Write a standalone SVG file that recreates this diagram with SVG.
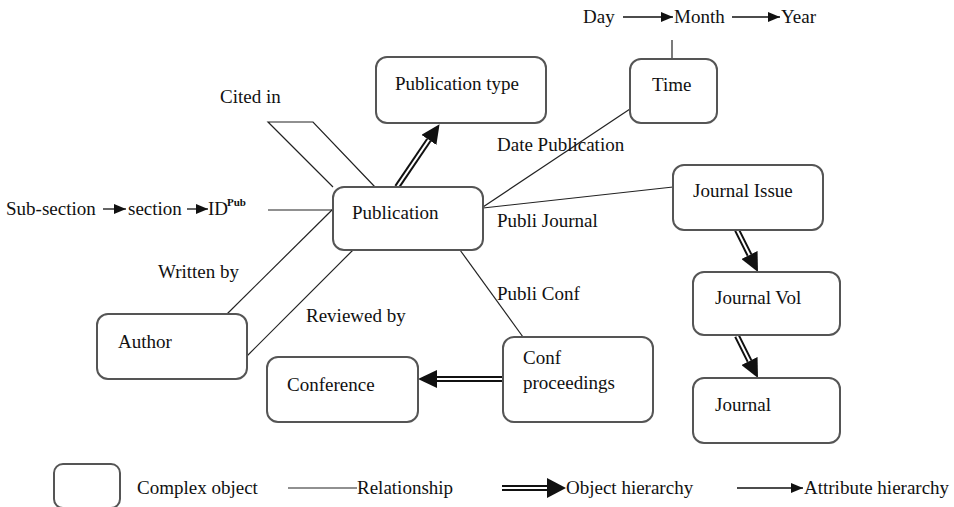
<svg xmlns="http://www.w3.org/2000/svg" width="954" height="507" viewBox="0 0 954 507">
<style>
.box{fill:#fff;stroke:#555;stroke-width:2}
text{font-family:"Liberation Serif","Times New Roman",serif;font-size:19px;fill:#111}
.rel{stroke:#222;stroke-width:1.2;fill:none}
.dblo{stroke:#111;stroke-width:6;fill:none}
.dbli{stroke:#fff;stroke-width:2;fill:none}
.attr{stroke:#111;stroke-width:1.3;fill:none}
</style>
<defs>
<marker id="obj" viewBox="0 0 19 18" refX="0" refY="9" markerWidth="19" markerHeight="18" markerUnits="userSpaceOnUse" orient="auto">
<path d="M0,0 L19,9 L0,18 z" fill="#111"/>
</marker>
<marker id="objL" viewBox="0 0 19 20" refX="0" refY="10" markerWidth="19" markerHeight="20" markerUnits="userSpaceOnUse" orient="auto">
<path d="M0,0 L19,10 L0,20 z" fill="#111"/>
</marker>
<marker id="att" viewBox="0 0 12 10" refX="12" refY="5" markerWidth="12" markerHeight="10" markerUnits="userSpaceOnUse" orient="auto">
<path d="M0,0 L12,5 L0,10 z" fill="#111"/>
</marker>
</defs>
<rect width="954" height="507" fill="#fff"/>
<g id="connectors">
<path class="rel" d="M333,187 L268,122 L313,122 L375,187"/>
<line class="rel" x1="268" y1="210" x2="333" y2="210"/>
<line class="rel" x1="483" y1="207" x2="630" y2="109"/>
<line class="rel" x1="483" y1="208" x2="673" y2="187"/>
<line class="rel" x1="460" y1="250" x2="523" y2="337"/>
<line class="rel" x1="333" y1="209" x2="227" y2="314"/>
<line class="rel" x1="353" y1="250" x2="247" y2="356"/>
<line class="rel" x1="672" y1="40" x2="672" y2="60"/>
<line class="dblo" x1="397" y1="187" x2="428.9" y2="139.9" marker-end="url(#obj)"/>
<line class="dbli" x1="397" y1="187" x2="428.9" y2="139.9"/>
<line class="dblo" x1="503" y1="379" x2="437" y2="379" marker-end="url(#obj)"/>
<line class="dbli" x1="503" y1="379" x2="437" y2="379"/>
<line class="dblo" x1="737" y1="230" x2="749.5" y2="255" marker-end="url(#obj)"/>
<line class="dbli" x1="737" y1="230" x2="749.5" y2="255"/>
<line class="dblo" x1="737" y1="336" x2="749.5" y2="361" marker-end="url(#obj)"/>
<line class="dbli" x1="737" y1="336" x2="749.5" y2="361"/>
<line class="attr" x1="623" y1="17" x2="673" y2="17" marker-end="url(#att)"/>
<line class="attr" x1="732" y1="17" x2="780" y2="17" marker-end="url(#att)"/>
<line class="attr" x1="103" y1="209" x2="126" y2="209" marker-end="url(#att)"/>
<line class="attr" x1="187" y1="209" x2="208" y2="209" marker-end="url(#att)"/>
</g>
<g id="attr-time">
<text x="583" y="23">Day</text>
<text x="674" y="23">Month</text>
<text x="781" y="23">Year</text>
</g>
<g id="attr-pub">
<text x="6" y="215">Sub-section</text>
<text x="128" y="215">section</text>
<text x="208" y="215">ID</text>
<text x="227" y="206" style="font-size:11px;font-weight:bold">Pub</text>
</g>
<g id="labels">
<text x="220" y="103">Cited in</text>
<text x="497" y="151">Date Publication</text>
<text x="497" y="227">Publi Journal</text>
<text x="158" y="278">Written by</text>
<text x="497" y="300">Publi Conf</text>
<text x="306" y="322">Reviewed by</text>
</g>
<g id="n-pubtype"><rect class="box" x="376" y="57" width="170" height="66" rx="11"/><text x="395" y="90">Publication type</text></g>
<g id="n-time"><rect class="box" x="630" y="59" width="87" height="64" rx="11"/><text x="652" y="91">Time</text></g>
<g id="n-pub"><rect class="box" x="333" y="187" width="150" height="63" rx="11"/><text x="352" y="219">Publication</text></g>
<g id="n-jissue"><rect class="box" x="673" y="165" width="150" height="65" rx="11"/><text x="693" y="197">Journal Issue</text></g>
<g id="n-jvol"><rect class="box" x="693" y="272" width="147" height="63" rx="11"/><text x="715" y="304">Journal Vol</text></g>
<g id="n-journal"><rect class="box" x="693" y="378" width="147" height="65" rx="11"/><text x="715" y="411">Journal</text></g>
<g id="n-confproc"><rect class="box" x="503" y="337" width="150" height="85" rx="11"/><text x="523" y="364">Conf</text><text x="523" y="389">proceedings</text></g>
<g id="n-author"><rect class="box" x="97" y="314" width="150" height="65" rx="11"/><text x="118" y="348">Author</text></g>
<g id="n-conference"><rect class="box" x="267" y="357" width="151" height="65" rx="11"/><text x="287" y="391">Conference</text></g>
<g id="legend">
<rect class="box" x="54" y="464" width="66" height="44" rx="9"/>
<text x="137" y="494">Complex object</text>
<line class="rel" x1="288" y1="488" x2="357" y2="488"/>
<text x="357" y="494">Relationship</text>
<line class="dblo" x1="502" y1="488" x2="547" y2="488" marker-end="url(#objL)"/>
<line class="dbli" x1="502" y1="488" x2="547" y2="488"/>
<text x="566" y="494">Object hierarchy</text>
<line class="attr" x1="737" y1="488" x2="803" y2="488" marker-end="url(#att)"/>
<text x="804" y="494">Attribute hierarchy</text>
</g>
</svg>
